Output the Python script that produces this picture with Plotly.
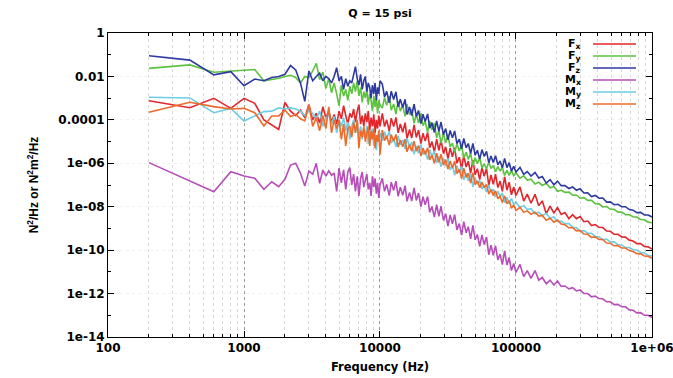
import plotly.graph_objects as go

# ---------------- data ----------------
freq_low = [
    200, 400, 600, 800, 1000, 1200, 1400, 1600, 1800, 2000,
    2200, 2400, 2600, 2800, 3000, 3200, 3400, 3600, 3800, 4000,
    4200, 4400, 4600, 4800, 5000, 5200, 5400, 5600, 5800, 6000,
    6200, 6400, 6600, 6800, 7000, 7200, 7400, 7600, 7800, 8000,
    8200, 8400, 8600, 8800, 9000, 9200, 9400, 9600, 9800, 10000,
]
freq_mid = [
    10400, 10800, 11200, 11700, 12100, 12600, 13100, 13600, 14100, 14700,
    15300, 15800, 16500, 17100, 17800, 18500, 19200, 20000, 20700, 21500,
    22400, 23200, 24100, 25100, 26100, 27100, 28100, 29300, 30400, 31600,
    32800, 34100, 35400, 36800, 38300, 39800, 41300, 43000, 44600, 46400,
    48200, 50100, 52000, 54100, 56200, 58400, 60700, 63100, 65500, 68100,
    70700, 73600, 76400, 79400, 82500, 85800, 89100, 92600, 96200, 100000,
]
freq_high = [
    107000, 114000, 121000, 129000, 138000, 147000, 156000, 167000, 178000, 190000,
    202000, 215000, 229000, 245000, 261000, 278000, 296000, 316000, 337000, 359000,
    383000, 408000, 435000, 464000, 494000, 527000, 562000, 599000, 638000, 681000,
    726000, 774000, 825000, 879000, 937000, 1000000,
]
freq_hz = freq_low + freq_mid + freq_high

# decimal exponents of the PSD values (value = 10 ** exponent), same order as freq_hz
fx_log10 = [
    -3.12, -3.44, -3.01, -3.47, -3.01, -3.24, -4.0, -4.24, -4.44, -3.2,
    -3.6, -3.8, -3.55, -3.9, -3.3, -4.0, -3.7, -4.15, -3.4, -3.9,
    -3.6, -4.1, -3.75, -4.2, -3.6, -3.95, -3.35, -3.8, -4.2, -3.7,
    -3.9, -3.5, -4.1, -3.6, -3.3, -4.2, -3.8, -4.3, -3.7, -4.1,
    -3.6, -4.5, -3.9, -4.3, -3.75, -4.6, -4.0, -4.4, -3.8, -4.3,
    -3.70, -4.31, -4.00, -4.53, -3.92, -4.31, -3.89, -4.60, -4.19, -4.57,
    -4.13, -4.86, -4.44, -4.84, -4.23, -4.81, -4.47, -5.09, -4.62, -4.98,
    -4.58, -5.28, -5.00, -5.48, -4.89, -5.41, -4.93, -5.56, -5.24, -5.79,
    -5.29, -5.70, -5.28, -6.00, -5.72, -6.26, -5.64, -6.17, -5.90, -6.46,
    -5.85, -6.53, -6.25, -6.75, -6.20, -6.60, -6.24, -7.01, -6.54, -6.97,
    -6.50, -7.12, -6.82, -7.29, -6.62, -7.24, -6.87, -7.45, -7.09, -7.48,
    -7.09, -7.74, -7.42, -7.84, -7.43, -7.95, -7.73, -8.32, -7.97, -8.29,
    -8.04, -8.36, -8.27, -8.55, -8.37, -8.55, -8.45, -8.69, -8.66, -8.87,
    -8.82, -8.95, -8.96, -9.12, -9.13, -9.27, -9.27, -9.39, -9.40, -9.54,
    -9.58, -9.70, -9.70, -9.83, -9.85, -9.95,
]
fy_log10 = [
    -1.63, -1.47, -1.81, -1.77, -1.72, -1.68, -2.2, -2.15, -2.08, -2.0,
    -1.95, -2.05, -2.3, -2.0, -2.05, -1.75, -1.4, -2.15, -1.8, -2.55,
    -2.1, -2.75, -2.3, -2.8, -3.35, -2.4, -2.9, -2.6, -3.1, -2.45,
    -2.8, -2.3, -2.7, -2.2, -2.9, -2.5, -3.2, -2.7, -3.0, -2.6,
    -3.3, -2.8, -3.1, -3.6, -2.9, -3.4, -3.0, -3.7, -3.1, -3.3,
    -3.46, -2.97, -3.33, -2.91, -3.55, -3.27, -3.73, -3.14, -3.60, -3.33,
    -3.84, -3.28, -3.76, -3.51, -4.16, -3.74, -4.15, -3.69, -4.26, -4.07,
    -4.57, -4.05, -4.46, -4.15, -4.83, -4.50, -5.07, -4.62, -5.06, -4.69,
    -5.24, -5.07, -5.51, -5.10, -5.43, -5.17, -5.75, -5.49, -5.82, -5.53,
    -6.11, -5.73, -6.02, -5.73, -6.22, -6.02, -6.25, -5.95, -6.24, -6.10,
    -6.39, -6.15, -6.36, -6.19, -6.56, -6.33, -6.56, -6.34, -6.57, -6.44,
    -6.69, -6.58, -6.77, -6.73, -6.95, -6.87, -7.02, -6.92, -7.13, -7.07,
    -7.29, -7.24, -7.34, -7.33, -7.47, -7.46, -7.61, -7.58, -7.71, -7.71,
    -7.86, -7.87, -8.01, -7.99, -8.12, -8.12, -8.25, -8.25, -8.37, -8.37,
    -8.46, -8.48, -8.59, -8.60, -8.71, -8.74,
]
fz_log10 = [
    -1.05, -1.25, -1.93, -1.78, -2.43, -2.12, -2.2, -2.05, -2.0, -1.9,
    -1.5, -1.7, -2.3, -3.15, -1.75, -2.2, -2.0, -1.85, -2.2, -2.0,
    -2.1, -2.3, -2.0, -1.6, -2.2, -2.0, -2.6, -2.1, -2.45, -2.2,
    -2.3, -1.9, -1.55, -2.1, -2.4, -1.9, -2.6, -2.2, -2.0, -2.7,
    -2.3, -2.5, -3.0, -2.4, -2.8, -2.3, -3.1, -2.5, -2.8, -2.2,
    -2.35, -2.94, -2.69, -3.21, -2.68, -3.06, -2.71, -3.40, -3.05, -3.43,
    -3.05, -3.75, -3.41, -3.80, -3.28, -3.84, -3.57, -4.17, -3.74, -4.08,
    -3.73, -4.38, -4.13, -4.58, -4.05, -4.53, -4.10, -4.69, -4.40, -4.92,
    -4.49, -4.83, -4.51, -5.09, -4.89, -5.33, -4.86, -5.29, -5.09, -5.55,
    -5.08, -5.63, -5.40, -5.81, -5.37, -5.68, -5.45, -5.97, -5.66, -5.96,
    -5.65, -6.07, -5.89, -6.21, -5.78, -6.20, -5.97, -6.36, -6.14, -6.40,
    -6.19, -6.51, -6.38, -6.59, -6.42, -6.68, -6.61, -6.91, -6.75, -6.99,
    -6.82, -7.03, -7.03, -7.16, -7.09, -7.24, -7.17, -7.37, -7.36, -7.53,
    -7.48, -7.61, -7.60, -7.79, -7.78, -7.91, -7.89, -8.00, -8.00, -8.13,
    -8.16, -8.27, -8.26, -8.38, -8.38, -8.47,
]
mx_log10 = [
    -5.97, -6.81, -7.31, -6.39, -6.59, -6.69, -7.2, -6.85, -7.08, -6.74,
    -6.08, -6.0, -6.46, -7.05, -6.36, -6.5, -6.0, -6.92, -6.31, -6.59,
    -6.35, -6.55, -6.45, -7.3, -6.22, -6.9, -6.3, -7.2, -6.4, -6.2,
    -7.0, -6.5, -7.3, -6.6, -7.5, -6.7, -6.4, -7.1, -6.8, -6.5,
    -7.2, -6.9, -7.5, -6.6, -7.1, -6.7, -7.4, -6.9, -7.6, -7.0,
    -6.69, -7.29, -6.97, -7.49, -6.87, -7.25, -6.82, -7.52, -7.10, -7.47,
    -7.03, -7.75, -7.34, -7.74, -7.13, -7.71, -7.37, -7.99, -7.54, -7.91,
    -7.53, -8.25, -7.99, -8.48, -7.91, -8.44, -7.98, -8.63, -8.32, -8.89,
    -8.38, -8.79, -8.36, -9.07, -8.78, -9.31, -8.69, -9.20, -8.92, -9.48,
    -8.86, -9.53, -9.28, -9.82, -9.30, -9.74, -9.40, -10.21, -9.77, -10.24,
    -9.80, -10.45, -10.18, -10.67, -10.03, -10.68, -10.34, -10.94, -10.61, -11.03,
    -10.66, -11.22, -10.94, -11.30, -10.94, -11.38, -11.26, -11.55, -11.38, -11.61,
    -11.42, -11.67, -11.65, -11.78, -11.73, -11.88, -11.83, -12.00, -12.00, -12.15,
    -12.12, -12.23, -12.24, -12.38, -12.38, -12.51, -12.50, -12.61, -12.61, -12.75,
    -12.77, -12.89, -12.88, -13.00, -13.00, -13.10,
]
my_log10 = [
    -2.96, -2.99, -3.67, -3.47, -4.05, -3.82, -3.62, -3.6, -3.45, -3.5,
    -3.45, -3.5, -3.6, -3.8, -3.55, -3.7, -3.95, -3.6, -4.3, -3.9,
    -3.75, -4.2, -3.85, -4.6, -4.0, -4.3, -3.9, -4.5, -4.1, -4.9,
    -4.3, -4.0, -4.6, -4.2, -4.7, -4.3, -4.9, -4.4, -4.75, -4.3,
    -5.1, -4.5, -4.9, -4.4, -5.2, -4.6, -5.4, -4.7, -5.0, -4.6,
    -4.96, -4.55, -4.87, -4.52, -5.07, -4.84, -5.24, -4.74, -5.15, -4.92,
    -5.35, -4.85, -5.25, -5.02, -5.58, -5.20, -5.54, -5.13, -5.60, -5.42,
    -5.83, -5.38, -5.70, -5.43, -5.99, -5.68, -6.16, -5.76, -6.12, -5.78,
    -6.30, -6.09, -6.55, -6.11, -6.44, -6.15, -6.76, -6.46, -6.80, -6.48,
    -7.08, -6.67, -6.97, -6.79, -7.17, -7.04, -7.32, -7.00, -7.34, -7.20,
    -7.54, -7.29, -7.53, -7.37, -7.81, -7.57, -7.85, -7.62, -7.90, -7.78,
    -8.04, -7.94, -8.13, -8.09, -8.32, -8.25, -8.41, -8.31, -8.52, -8.47,
    -8.69, -8.66, -8.78, -8.78, -8.95, -8.96, -9.13, -9.10, -9.22, -9.22,
    -9.37, -9.38, -9.52, -9.49, -9.62, -9.62, -9.75, -9.76, -9.88, -9.88,
    -9.98, -10.00, -10.11, -10.13, -10.24, -10.27,
]
mz_log10 = [
    -3.65, -3.19, -3.39, -3.5, -3.47, -3.67, -4.28, -3.82, -3.82, -3.55,
    -3.85, -3.75, -3.95, -4.05, -3.3, -4.3, -3.9, -4.5, -3.8, -4.4,
    -3.4, -4.6, -4.0, -4.4, -4.0, -4.9, -4.2, -5.2, -4.4, -4.3,
    -4.8, -4.1, -4.6, -4.0, -5.3, -4.5, -4.8, -4.3, -5.0, -4.6,
    -4.3, -5.2, -4.5, -4.9, -4.4, -5.3, -4.7, -5.0, -4.5, -5.6,
    -4.47, -4.96, -4.73, -5.16, -4.68, -4.99, -4.67, -5.25, -4.93, -5.24,
    -4.89, -5.47, -5.15, -5.45, -4.98, -5.44, -5.18, -5.67, -5.30, -5.59,
    -5.28, -5.84, -5.62, -6.00, -5.54, -5.95, -5.58, -6.08, -5.83, -6.27,
    -5.89, -6.22, -5.90, -6.48, -6.27, -6.70, -6.23, -6.65, -6.45, -6.91,
    -6.43, -6.98, -6.81, -7.12, -6.87, -7.12, -6.97, -7.42, -7.21, -7.48,
    -7.27, -7.63, -7.52, -7.81, -7.50, -7.87, -7.72, -8.07, -7.92, -8.17,
    -8.03, -8.26, -8.19, -8.35, -8.25, -8.43, -8.40, -8.62, -8.53, -8.71,
    -8.61, -8.80, -8.83, -8.97, -8.96, -9.11, -9.09, -9.26, -9.27, -9.41,
    -9.39, -9.51, -9.51, -9.67, -9.68, -9.80, -9.79, -9.90, -9.90, -10.02,
    -10.06, -10.16, -10.17, -10.27, -10.28, -10.37,
]

series_names = ["F<sub>x</sub>", "F<sub>y</sub>", "F<sub>z</sub>",
                "M<sub>x</sub>", "M<sub>y</sub>", "M<sub>z</sub>"]
series_exps = [fx_log10, fy_log10, fz_log10, mx_log10, my_log10, mz_log10]
series_colors = ["#e3262b", "#5cc23f", "#2d3aa0", "#b64db8", "#6dcde3", "#ee6a2b"]

x_tick_vals = [100, 1000, 10000, 100000, 1000000]
x_tick_text = ["100", "1000", "10000", "100000", "1e+06"]
y_tick_vals = [1, 1e-2, 1e-4, 1e-6, 1e-8, 1e-10, 1e-12, 1e-14]
y_tick_text = ["1", "0.01", "0.0001", "1e-06", "1e-08", "1e-10", "1e-12", "1e-14"]

# ---------------- figure ----------------
fig = go.Figure()
for name, exps, col in zip(series_names, series_exps, series_colors):
    n = min(len(freq_hz), len(exps))
    fig.add_trace(go.Scatter(
        x=freq_hz[:n], y=[10 ** e for e in exps[:n]], mode="lines", name=name,
        line=dict(color=col, width=1.6), showlegend=False,
    ))

x_minor = [m * 10 ** d for d in range(2, 6) for m in range(2, 10)]
y_minor = [10.0 ** (-k) for k in range(1, 14, 2)]

FONT = "DejaVu Sans"
fig.update_layout(
    width=673, height=378,
    margin=dict(l=108, r=21, t=33, b=41),
    paper_bgcolor="white", plot_bgcolor="white",
    font=dict(family=FONT, size=12, color="black"),
    title=dict(text="Q = 15 psi", x=0.5, xref="paper", y=1 - 13 / 378,
               yref="container", yanchor="middle", xanchor="center",
               font=dict(family=FONT, size=11, weight="bold")),
    xaxis=dict(
        type="log", range=[1.9999, 6.0002], tickvals=x_tick_vals, ticktext=x_tick_text,
        ticks="inside", ticklen=6, tickcolor="black", showline=True,
        linecolor="black", linewidth=1, mirror="ticks",
        showgrid=True, gridcolor="#9a9a9a", griddash="dot", gridwidth=1,
        zeroline=False, automargin=False, ticklabeloverflow="allow",
        tickfont=dict(family=FONT, size=12, weight="bold"),
        title=dict(text="Frequency (Hz)", standoff=8,
                   font=dict(family=FONT, size=11.5, weight="bold")),
        minor=dict(tickvals=x_minor, ticks="inside", ticklen=3, tickcolor="black",
                   showgrid=True, gridcolor="#d8d8d8", griddash="dot", gridwidth=1),
    ),
    yaxis=dict(
        type="log", range=[-14, 0], tickvals=y_tick_vals, ticktext=y_tick_text,
        ticks="inside", ticklen=6, tickcolor="black", showline=True,
        linecolor="black", linewidth=1, mirror="ticks",
        showgrid=True, gridcolor="#f2f2f2", griddash="dot",
        zeroline=False, automargin=False, ticklabeloverflow="allow",
        tickfont=dict(family=FONT, size=12, weight="bold"),
        title=dict(text="N<sup>2</sup>/Hz or N<sup>2</sup>m<sup>2</sup>/Hz", standoff=17,
                   font=dict(family="Liberation Sans", size=12, weight="bold")),
        minor=dict(tickvals=y_minor, ticks="inside", ticklen=3, tickcolor="black",
                   showgrid=False),
    ),
)

# key (gnuplot style: label right-aligned, sample line to its right)
plot_top, plot_h, plot_l, plot_w = 33, 304, 108, 544
for i, (name, col) in enumerate(zip(series_names, series_colors)):
    ypx = 44 + 12 * i
    yp = (plot_top + plot_h - ypx) / plot_h
    fig.add_annotation(
        x=(583 - plot_l) / plot_w, y=yp, xref="paper", yref="paper",
        text=name, showarrow=False, xanchor="right", yanchor="middle",
        font=dict(family=FONT, size=11, weight="bold", color="black"),
    )
    fig.add_shape(
        type="line", xref="paper", yref="paper",
        x0=(593 - plot_l) / plot_w, x1=(636 - plot_l) / plot_w, y0=yp, y1=yp,
        line=dict(color=col, width=1.6),
    )

fig.write_html("out.html")
